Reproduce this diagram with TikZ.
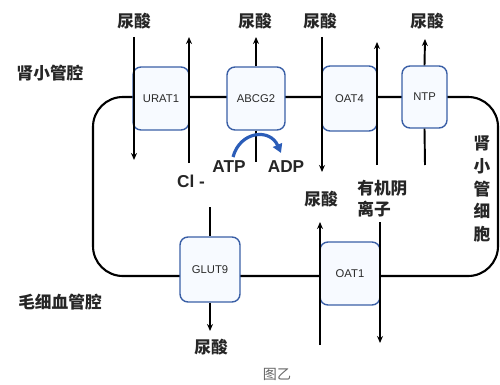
\documentclass[tikz,border=0pt]{standalone}
\usepackage{fontspec}
\setmainfont{Liberation Sans}
\newfontfamily\cjk{Noto Sans CJK SC}
\usetikzlibrary{arrows.meta}
\definecolor{boxblue}{HTML}{3A5FA6}
\definecolor{boxfill}{HTML}{F7FAFF}
\definecolor{labgray}{HTML}{2A2A2A}
\definecolor{arcblue}{HTML}{2B5DB8}
\definecolor{capgray}{HTML}{666666}
\tikzset{
  tp/.style={draw=boxblue, fill=boxfill, line width=0.8pt, rounded corners=4.5pt,
    inner sep=0pt, font=\fontsize{6.4}{7}\selectfont, text=labgray},
  mem/.style={line width=1.2pt, black},
  tline/.style={line width=1.1pt, black},
  arr/.style={tline, -{Stealth[length=4pt,width=3.4pt]}},
  cn/.style={font=\cjk\bfseries\fontsize{9.5}{11}\selectfont, inner sep=0pt, text=black!85},
  lat/.style={font=\bfseries\fontsize{9.8}{11}\selectfont, inner sep=0pt, text=black!85},
  bluearc/.style={line width=1.8pt, arcblue, -{Triangle[length=5pt,width=5.5pt]}},
}
\begin{document}
\begin{tikzpicture}[x=0.02cm,y=-0.02cm]
\useasboundingbox (0,0) rectangle (500,385);
% membrane
\draw[mem, rounded corners=17pt] (93,97) rectangle (498,276);
% boxes
\node[tp, minimum width=1.12cm, minimum height=1.26cm] (urat) at (161,98.5) {URAT1};
\node[tp, minimum width=1.16cm, minimum height=1.26cm] (abcg) at (256,98.5) {ABCG2};
\node[tp, minimum width=1.10cm, minimum height=1.30cm] (oat4) at (349.5,98.5) {OAT4};
\node[tp, minimum width=0.90cm, minimum height=1.24cm] (ntp) at (424.5,97) {NTP};
\node[tp, minimum width=1.20cm, minimum height=1.30cm] (glut) at (210,269.5) {GLUT9};
\node[tp, minimum width=1.20cm, minimum height=1.26cm] (oat1) at (350,273.5) {OAT1};
% coordinates
\coordinate (u1a) at (134,37);  \coordinate (u1b) at (134,160);
\coordinate (u2a) at (189,163); \coordinate (u2b) at (189,37);
\coordinate (abt) at (256,37);  \coordinate (abb) at (256,162);
\coordinate (o4a) at (322,37);  \coordinate (o4b) at (322,172);
\coordinate (o4c) at (377,165); \coordinate (o4d) at (377,42);
\coordinate (ntt) at (425,39);  \coordinate (ntb) at (425,165);
\coordinate (glt) at (210,207); \coordinate (glb) at (210,331);
\coordinate (o1a) at (320,345); \coordinate (o1b) at (320,222);
\coordinate (o1c) at (380,222); \coordinate (o1d) at (380,343);
% transport lines
\draw[arr] (u1a) -- (u1b);
\draw[arr] (u2a) -- (u2b);
\draw[arr] (abcg.north) -- (abt);
\draw[tline] (abcg.south) -- (abb);
\draw[arr] (o4a) -- (o4b);
\draw[arr] (o4c) -- (o4d);
\draw[arr] (ntp.north) -- (ntt);
\draw[tline] (ntp.south) -- (ntb);
\draw[tline] (glt) -- (glut.north);
\draw[arr] (glut.south) -- (glb);
\draw[arr] (o1a) -- (o1b);
\draw[arr] (o1c) -- (o1d);
% labels
\node[cn] (ua1) at (134,21) {尿酸};
\node[cn] (ua2) at (255,21) {尿酸};
\node[cn] (ua3) at (320,21) {尿酸};
\node[cn] (ua4) at (427,21) {尿酸};
\node[cn] (ua5) at (321,199) {尿酸};
\node[cn] (ua6) at (211,347) {尿酸};
\node[cn, align=left, anchor=north west, font=\cjk\bfseries\fontsize{9.5}{12}\selectfont] (oa) at (357,180) {有机阴\\离子};
\node[lat] (cl) at (191,181) {Cl -};
\node[lat] (atp) at (229,167) {ATP};
\node[lat] (adp) at (286,167) {ADP};
\node[cn] (lum) at (50,73) {肾小管腔};
\node[cn] (cap) at (60,302) {毛细血管腔};
\node[cn, align=center, font=\cjk\bfseries\fontsize{9.5}{13}\selectfont] (cell) at (482,189) {肾\\小\\管\\细\\胞};
\node[font=\cjk\fontsize{8}{9}\selectfont, text=capgray, inner sep=0pt] (fig) at (277,374) {图乙};
% ATP -> ADP arc
\coordinate (arcs) at (233,157);
\coordinate (arce) at (281,153);
\draw[bluearc] (arcs) .. controls (240,131) and (270,128) .. (arce);
\end{tikzpicture}
\end{document}
